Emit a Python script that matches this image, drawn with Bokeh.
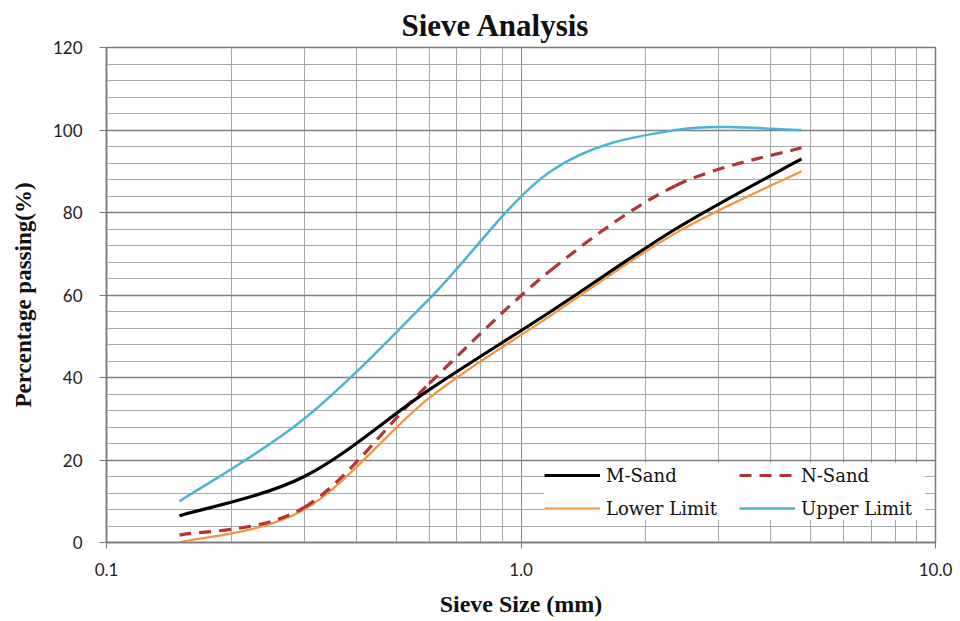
import math
from bokeh.plotting import figure
from bokeh.models import (FixedTicker, CustomJSTickFormatter, Legend, LegendItem, Range1d)
from bokeh.embed import file_html
from bokeh.resources import INLINE

# ---- data ----
sieve_mm = [0.15, 0.3, 0.6, 1.18, 2.36, 4.75]
m_sand = [6.5, 16.0, 37.0, 56.0, 76.0, 93.0]
n_sand = [1.8, 8.5, 38.5, 66.0, 86.5, 95.7]
lower_limit = [0.0, 8.0, 35.0, 55.0, 75.0, 90.0]
upper_limit = [10.0, 30.0, 59.0, 90.0, 100.0, 100.0]

x_major = [0.1, 1.0, 10.0]
x_minor = [0.2, 0.3, 0.4, 0.5, 0.6, 0.7, 0.8, 0.9, 2, 3, 4, 5, 6, 7, 8, 9]
y_major = [0, 20, 40, 60, 80, 100, 120]
y_minor = [v for v in range(0, 121, 4) if v % 20 != 0]


def smooth_segments(xs, ys):
    """Bezier control points for a smoothed line (Catmull-Rom, in log-x space)."""
    lx = [math.log10(v) for v in xs]
    n = len(xs)
    seg = dict(x0=[], y0=[], x1=[], y1=[], cx0=[], cy0=[], cx1=[], cy1=[])
    for i in range(n - 1):
        i0 = max(i - 1, 0)
        i3 = min(i + 2, n - 1)
        c0x = lx[i] + (lx[i + 1] - lx[i0]) / 6.0
        c0y = ys[i] + (ys[i + 1] - ys[i0]) / 6.0
        c1x = lx[i + 1] - (lx[i3] - lx[i]) / 6.0
        c1y = ys[i + 1] - (ys[i3] - ys[i]) / 6.0
        seg["x0"].append(xs[i]); seg["y0"].append(ys[i])
        seg["x1"].append(xs[i + 1]); seg["y1"].append(ys[i + 1])
        seg["cx0"].append(10 ** c0x); seg["cy0"].append(c0y)
        seg["cx1"].append(10 ** c1x); seg["cy1"].append(c1y)
    return seg


p = figure(width=960, height=621, x_axis_type="log",
           x_range=Range1d(0.1, 10), y_range=Range1d(0, 120),
           output_backend="svg", toolbar_location=None,
           min_border_left=106, min_border_right=25,
           min_border_top=47, min_border_bottom=79,
           background_fill_color="white", border_fill_color="white")

p.title.text = "Sieve Analysis"
p.title.text_font = "Liberation Serif"
p.title.text_font_size = "31px"
p.title.text_font_style = "bold"
p.title.text_color = "#111111"
p.title.align = "left"
p.title.offset = 295
p.title.standoff = 9

p.outline_line_color = "#7a7a7a"
p.outline_line_width = 1.5

# axes
xa = p.xaxis[0]
xa.ticker = FixedTicker(ticks=x_major, minor_ticks=x_minor)
xa.formatter = CustomJSTickFormatter(code="return tick.toFixed(1);")
xa.axis_label = "Sieve Size (mm)"
xa.axis_label_text_font = "Liberation Serif"
xa.axis_label_text_font_style = "bold"
xa.axis_label_text_font_size = "24px"
xa.axis_label_text_color = "#111111"
xa.axis_label_standoff = 12
xa.major_label_text_font = "Lato"
xa.major_label_text_font_size = "17px"
xa.major_label_text_color = "#222222"
xa.major_label_standoff = 14
xa.major_tick_out = 6
xa.major_tick_in = 0
xa.minor_tick_line_color = None
xa.axis_line_color = "#7a7a7a"
xa.major_tick_line_color = "#7a7a7a"
xa.axis_line_width = 1.5

ya = p.yaxis[0]
ya.ticker = FixedTicker(ticks=y_major, minor_ticks=y_minor)
ya.axis_label = "Percentage passing(%)"
ya.axis_label_text_font = "Liberation Serif"
ya.axis_label_text_font_style = "bold"
ya.axis_label_text_font_size = "23px"
ya.axis_label_text_color = "#111111"
ya.axis_label_standoff = 14
ya.major_label_text_font = "Lato"
ya.major_label_text_font_size = "17px"
ya.major_label_text_color = "#222222"
ya.major_label_standoff = 17
ya.major_tick_out = 7
ya.major_tick_in = 0
ya.minor_tick_line_color = None
ya.axis_line_color = "#7a7a7a"
ya.major_tick_line_color = "#7a7a7a"
ya.axis_line_width = 1.5

# grids
p.xgrid.grid_line_color = "#8a8a8a"
p.xgrid.grid_line_width = 1
p.xgrid.minor_grid_line_color = "#a8a8a8"
p.xgrid.minor_grid_line_width = 1
p.ygrid.grid_line_color = "#7f7f7f"
p.ygrid.grid_line_width = 1.3
p.ygrid.minor_grid_line_color = "#a8a8a8"
p.ygrid.minor_grid_line_width = 1

series = [
    ("Lower Limit", lower_limit, dict(line_color="#f29440", line_width=2.2)),
    ("Upper Limit", upper_limit, dict(line_color="#4cb3d6", line_width=2.5)),
    ("N-Sand", n_sand, dict(line_color="#b03636", line_width=3.2, line_dash="12 8")),
    ("M-Sand", m_sand, dict(line_color="#000000", line_width=3.2)),
]
renderers = {}
for name, ys, style in series:
    seg = smooth_segments(sieve_mm, ys)
    r = p.bezier(x0="x0", y0="y0", x1="x1", y1="y1", cx0="cx0", cy0="cy0",
                 cx1="cx1", cy1="cy1", source=seg, **style)
    renderers[name] = r

# column-major fill: col 1 = M-Sand, Lower Limit; col 2 = N-Sand, Upper Limit
legend = Legend(
    items=[
        LegendItem(label="M-Sand", renderers=[renderers["M-Sand"]]),
        LegendItem(label="Lower Limit", renderers=[renderers["Lower Limit"]]),
        LegendItem(label="N-Sand", renderers=[renderers["N-Sand"]]),
        LegendItem(label="Upper Limit", renderers=[renderers["Upper Limit"]]),
    ],
    ncols=2,
    label_text_font="DejaVu Serif",
    label_text_font_style="normal",
    label_text_font_size="18px",
    label_text_color="#111111",
)
legend.location = (438, 22)
legend.margin = 0
legend.padding = 8
legend.spacing = 9
legend.glyph_width = 56
legend.glyph_height = 24
legend.label_height = 24
legend.label_width = 124
legend.label_standoff = 6
legend.border_line_color = None
legend.background_fill_color = "white"
legend.background_fill_alpha = 1.0
p.add_layout(legend, "center")

open("out.html", "w").write(file_html(p, INLINE))
